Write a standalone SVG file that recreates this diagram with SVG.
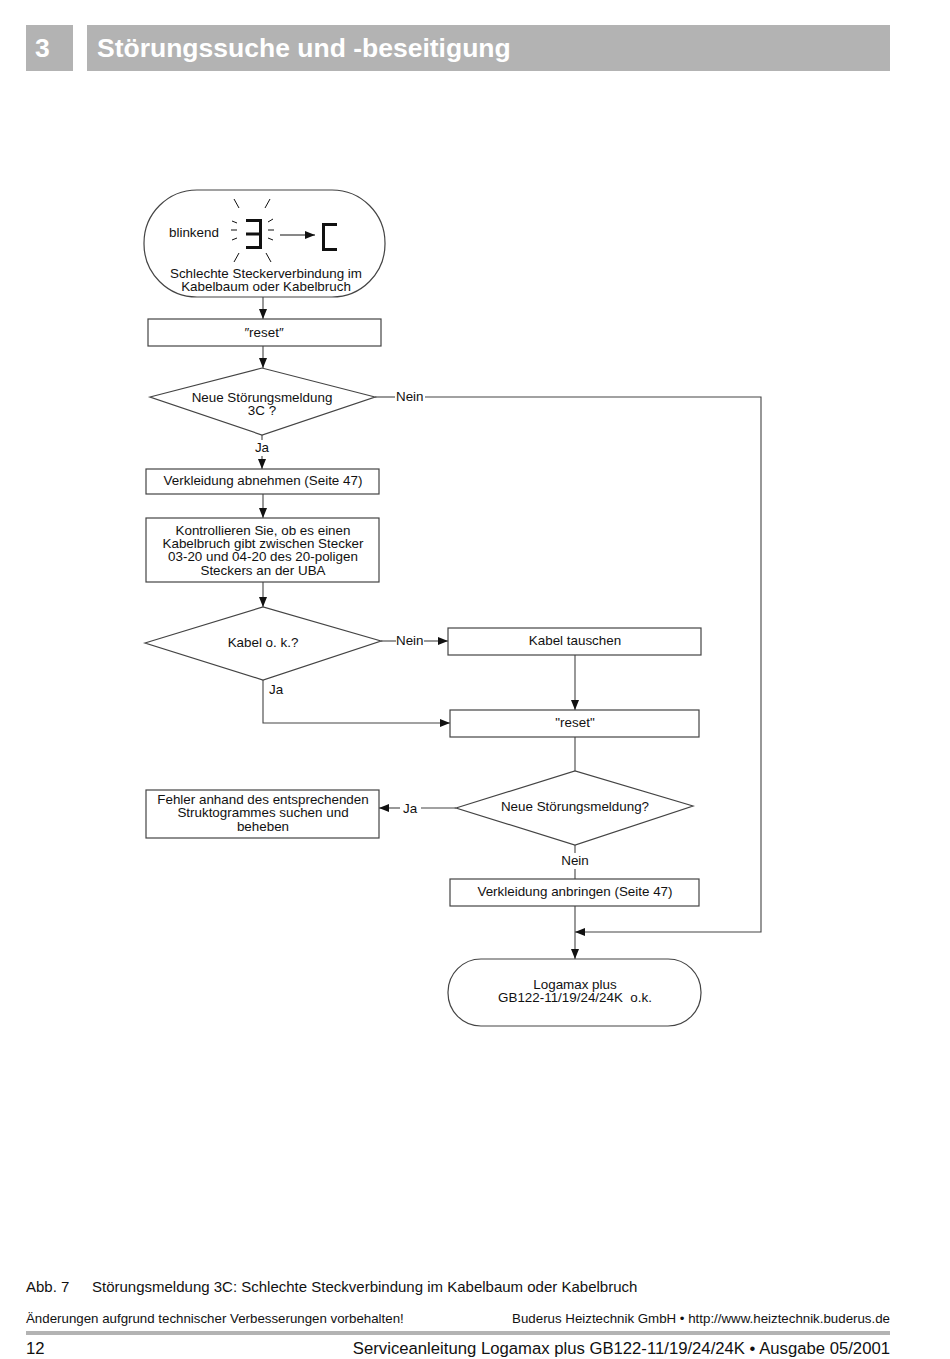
<svg xmlns="http://www.w3.org/2000/svg" width="950" height="1359" viewBox="0 0 950 1359">
<defs>
<style>
text{font-family:"Liberation Sans",Arial,sans-serif;fill:#111}
.n{font-size:13.4px;text-anchor:middle}
.l{font-size:13.4px}
.box{fill:#fff;stroke:#444;stroke-width:1.2}
.c{fill:none;stroke:#444;stroke-width:1.1}
.seg{fill:none;stroke:#111;stroke-width:3;stroke-linecap:butt}
.ray{fill:none;stroke:#111;stroke-width:1}
</style>
<marker id="a" viewBox="0 0 10 10" refX="10" refY="5" markerWidth="10" markerHeight="10" markerUnits="userSpaceOnUse" orient="auto">
<path d="M0,1 L10,5 L0,9 z" fill="#111"/>
</marker>
</defs>
<rect width="950" height="1359" fill="#fff"/>

<g id="header">
<rect x="26" y="25" width="47" height="46" fill="#b3b3b3"/>
<rect x="87" y="25" width="803" height="46" fill="#b3b3b3"/>
<text x="35" y="57" style="font-size:26.5px;font-weight:bold;fill:#fff">3</text>
<text x="97" y="57" style="font-size:26.5px;font-weight:bold;fill:#fff">Störungssuche und -beseitigung</text>
</g>

<g id="connectors">
<line class="c" x1="263" y1="297" x2="263" y2="319" marker-end="url(#a)"/>
<line class="c" x1="263" y1="346" x2="263" y2="368" marker-end="url(#a)"/>
<line class="c" x1="262" y1="435" x2="262" y2="440"/>
<line class="c" x1="262" y1="456" x2="262" y2="469" marker-end="url(#a)"/>
<line class="c" x1="375" y1="397" x2="395" y2="397"/>
<polyline class="c" points="425,397 761,397 761,932 575,932" marker-end="url(#a)"/>
<line class="c" x1="263" y1="494" x2="263" y2="518" marker-end="url(#a)"/>
<line class="c" x1="263" y1="582" x2="263" y2="607" marker-end="url(#a)"/>
<line class="c" x1="381" y1="641" x2="396" y2="641"/>
<line class="c" x1="424" y1="641" x2="448" y2="641" marker-end="url(#a)"/>
<line class="c" x1="575" y1="655" x2="575" y2="710" marker-end="url(#a)"/>
<polyline class="c" points="263,680 263,723 450,723" marker-end="url(#a)"/>
<line class="c" x1="575" y1="737" x2="575" y2="771"/>
<line class="c" x1="456" y1="808" x2="421" y2="808"/>
<line class="c" x1="400" y1="808" x2="379" y2="808" marker-end="url(#a)"/>
<line class="c" x1="575" y1="845" x2="575" y2="853"/>
<line class="c" x1="575" y1="869" x2="575" y2="879"/>
<line class="c" x1="575" y1="906" x2="575" y2="959" marker-end="url(#a)"/>
<text class="l" x="396" y="401">Nein</text>
<text class="n" x="262" y="452">Ja</text>
<text class="l" x="396" y="645">Nein</text>
<text class="l" x="269" y="694">Ja</text>
<text class="l" x="403" y="813">Ja</text>
<text class="n" x="575" y="865">Nein</text>
</g>

<g id="start">
<rect class="box" x="144" y="190" width="241" height="107" rx="53" ry="53"/>
<text class="l" x="169" y="237">blinkend</text>
<path class="seg" d="M246,220.5 H260.5 M246,234 H260.5 M246,247.5 H260.5 M260.5,219 V249"/>
<path class="seg" d="M337,224.5 H323.5 M323.5,223 V251 M322,249.5 H337"/>
<path class="ray" d="M234,199 L239,208 M270,199 L265,208 M239,253 L234,262 M266,253 L271,262 M232,221 L237,223 M231,230 L237,230 M232,240 L237,238 M268,222 L273,219 M268,230 L274,230 M268,238 L273,240"/>
<line x1="280" y1="235" x2="315" y2="235" stroke="#111" stroke-width="1" marker-end="url(#a)"/>
<text class="n" x="266" y="278">Schlechte Steckerverbindung im</text>
<text class="n" x="266" y="291">Kabelbaum oder Kabelbruch</text>
</g>

<g id="reset1">
<rect class="box" x="148" y="319" width="233" height="27"/>
<text class="n" x="264" y="337">″reset″</text>
</g>

<g id="dec1">
<polygon class="box" points="150,397 262,368 375,397 262,435"/>
<text class="n" x="262" y="402">Neue Störungsmeldung</text>
<text class="n" x="262" y="415">3C ?</text>
</g>

<g id="verkleidung-ab">
<rect class="box" x="146" y="469" width="233" height="25"/>
<text class="n" x="263" y="485">Verkleidung abnehmen (Seite 47)</text>
</g>

<g id="kontrolle">
<rect class="box" x="146" y="518" width="233" height="64"/>
<text class="n" x="263" y="535">Kontrollieren Sie, ob es einen</text>
<text class="n" x="263" y="548">Kabelbruch gibt zwischen Stecker</text>
<text class="n" x="263" y="561">03-20 und 04-20 des 20-poligen</text>
<text class="n" x="263" y="575">Steckers an der UBA</text>
</g>

<g id="dec2">
<polygon class="box" points="145,643 263,607 381,641 263,680"/>
<text class="n" x="263" y="647">Kabel o. k.?</text>
</g>

<g id="tauschen">
<rect class="box" x="448" y="628" width="253" height="27"/>
<text class="n" x="575" y="645">Kabel tauschen</text>
</g>

<g id="reset2">
<rect class="box" x="450" y="710" width="249" height="27"/>
<text class="n" x="575" y="727">"reset"</text>
</g>

<g id="dec3">
<polygon class="box" points="456,808 575,771 693,806 575,845"/>
<text class="n" x="575" y="811">Neue Störungsmeldung?</text>
</g>

<g id="fehler">
<rect class="box" x="146" y="790" width="233" height="48"/>
<text class="n" x="263" y="804">Fehler anhand des entsprechenden</text>
<text class="n" x="263" y="817">Struktogrammes suchen und</text>
<text class="n" x="263" y="831">beheben</text>
</g>

<g id="verkleidung-an">
<rect class="box" x="450" y="879" width="249" height="27"/>
<text class="n" x="575" y="896">Verkleidung anbringen (Seite 47)</text>
</g>

<g id="end">
<rect class="box" x="448" y="959" width="253" height="67" rx="33" ry="33"/>
<text class="n" x="575" y="989">Logamax plus</text>
<text class="n" x="575" y="1002" style="white-space:pre">GB122-11/19/24/24K  o.k.</text>
</g>

<g id="footer">
<text x="26" y="1292" style="font-size:15px">Abb. 7</text>
<text x="92" y="1292" style="font-size:15px">Störungsmeldung 3C: Schlechte Steckverbindung im Kabelbaum oder Kabelbruch</text>
<text x="26" y="1323" style="font-size:13.3px">Änderungen aufgrund technischer Verbesserungen vorbehalten!</text>
<text x="890" y="1323" style="font-size:13.3px;text-anchor:end">Buderus Heiztechnik GmbH • http://www.heiztechnik.buderus.de</text>
<rect x="26" y="1331" width="864" height="4" fill="#b3b3b3"/>
<text x="26" y="1354" style="font-size:16.7px">12</text>
<text x="890" y="1354" style="font-size:16.7px;text-anchor:end">Serviceanleitung Logamax plus GB122-11/19/24/24K • Ausgabe 05/2001</text>
</g>
</svg>
